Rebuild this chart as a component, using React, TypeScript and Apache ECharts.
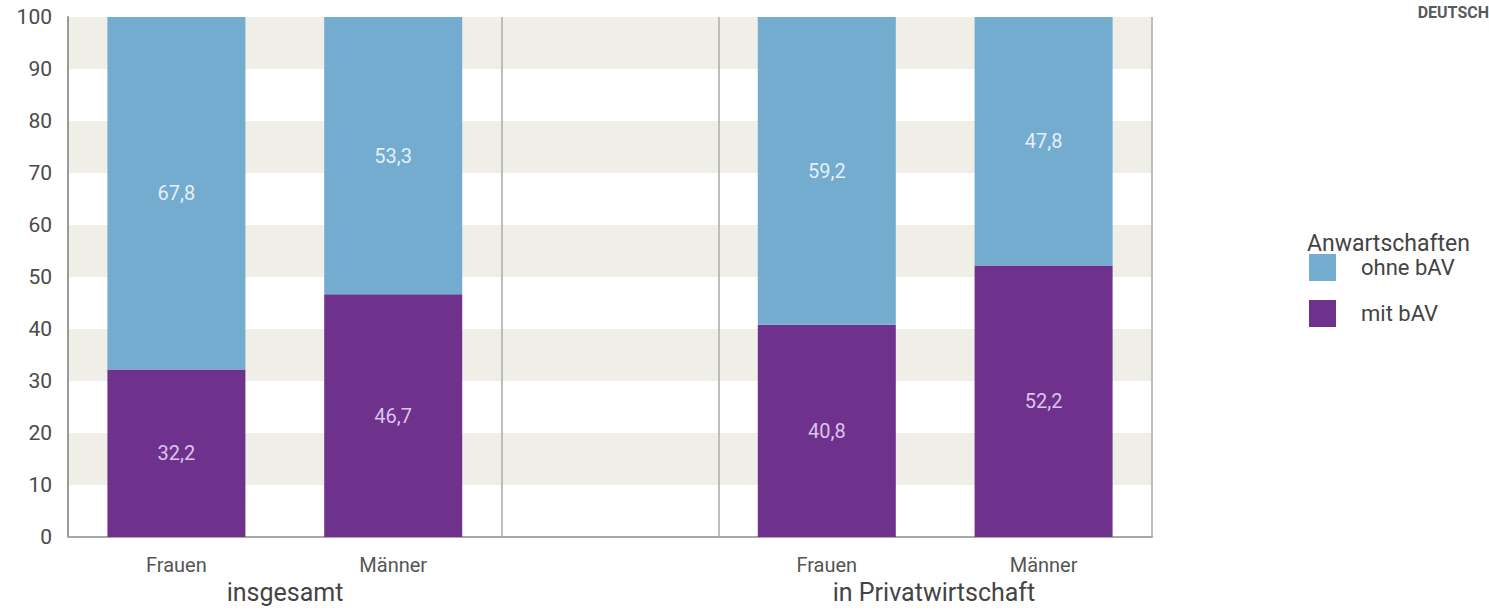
import React, { useEffect, useRef } from "react";
import * as echarts from "echarts";

const categories = ["Frauen", "Männer", "", "Frauen", "Männer"];
const mitBAV = [32.2, 46.7, null, 40.8, 52.2];
const ohneBAV = [67.8, 53.3, null, 59.2, 47.8];
const groupLabels = ["insgesamt", "in Privatwirtschaft"];
const legendTitle = "Anwartschaften";
const seriesNames = ["ohne bAV", "mit bAV"];

const FONT = "Roboto, 'Liberation Sans', sans-serif";
const fmt = (p: any) => String(p.value).replace(".", ",");

export default function App() {
  const ref = useRef<HTMLDivElement>(null);
  useEffect(() => {
    if (!ref.current) return;
    const chart = echarts.init(ref.current, null, { renderer: "svg" });
    chart.setOption({
      animation: false,
      backgroundColor: "#ffffff",
      textStyle: { fontFamily: FONT },
      grid: { left: 68, right: 337, top: 17, bottom: 75, containLabel: false },
      legend: {
        data: [seriesNames[0], seriesNames[1]],
        orient: "vertical",
        left: 1304,
        top: 249,
        itemWidth: 27,
        itemHeight: 27,
        itemGap: 19,
        icon: "rect",
        textStyle: { fontSize: 22, color: "#444", fontFamily: FONT, padding: [0, 0, 0, 20] },
      },
      xAxis: {
        type: "category",
        data: categories,
        axisLine: { show: true, lineStyle: { color: "#a8a8a8", width: 2 } },
        axisTick: { show: false },
        axisLabel: { fontSize: 20, color: "#555", margin: 18, fontFamily: FONT },
        splitLine: {
          show: true,
          interval: (i: number) => i === 2 || i === 3,
          lineStyle: { color: "#bdbdbd", width: 2 },
        },
      },
      yAxis: {
        type: "value",
        min: 0,
        max: 100,
        interval: 10,
        axisLine: { show: true, lineStyle: { color: "#9a9a9a", width: 2 } },
        axisTick: { show: false },
        axisLabel: { fontSize: 21, color: "#4a4a4a", margin: 16, fontFamily: FONT },
        splitLine: { show: false },
        splitArea: { show: true, areaStyle: { color: ["#ffffff", "#efeee7"] } },
      },
      series: [
        {
          name: seriesNames[1],
          type: "bar",
          stack: "total",
          data: mitBAV,
          barWidth: 138,
          itemStyle: { color: "#6e318c" },
          label: {
            show: true,
            position: "inside",
            formatter: fmt,
            color: "#dcc4ec",
            fontSize: 20,
            fontFamily: FONT,
          },
        },
        {
          name: seriesNames[0],
          type: "bar",
          stack: "total",
          data: ohneBAV,
          barWidth: 138,
          itemStyle: { color: "#73accf" },
          label: {
            show: true,
            position: "inside",
            formatter: fmt,
            color: "#e4eff8",
            fontSize: 20,
            fontFamily: FONT,
          },
        },
      ],
      graphic: [
        {
          type: "text",
          left: 1307,
          top: 232,
          style: { text: legendTitle, fontSize: 23, fill: "#444", fontFamily: FONT },
        },
        {
          type: "text",
          x: 285,
          y: 592,
          style: {
            text: groupLabels[0],
            fontSize: 25,
            fill: "#444",
            fontFamily: FONT,
            align: "center",
            verticalAlign: "middle",
          },
        },
        {
          type: "text",
          x: 934,
          y: 592,
          style: {
            text: groupLabels[1],
            fontSize: 25,
            fill: "#444",
            fontFamily: FONT,
            align: "center",
            verticalAlign: "middle",
          },
        },
        {
          type: "text",
          x: 1489,
          y: 4,
          style: {
            text: "DEUTSCH",
            fontSize: 16,
            fontWeight: "bold",
            fill: "#5a5a5a",
            fontFamily: FONT,
            align: "right",
            verticalAlign: "top",
          },
        },
      ],
    });
    return () => chart.dispose();
  }, []);
  return (
    <div
      ref={ref}
      style={{ position: "fixed", left: 0, top: 0, width: 1489, height: 612 }}
    />
  );
}
